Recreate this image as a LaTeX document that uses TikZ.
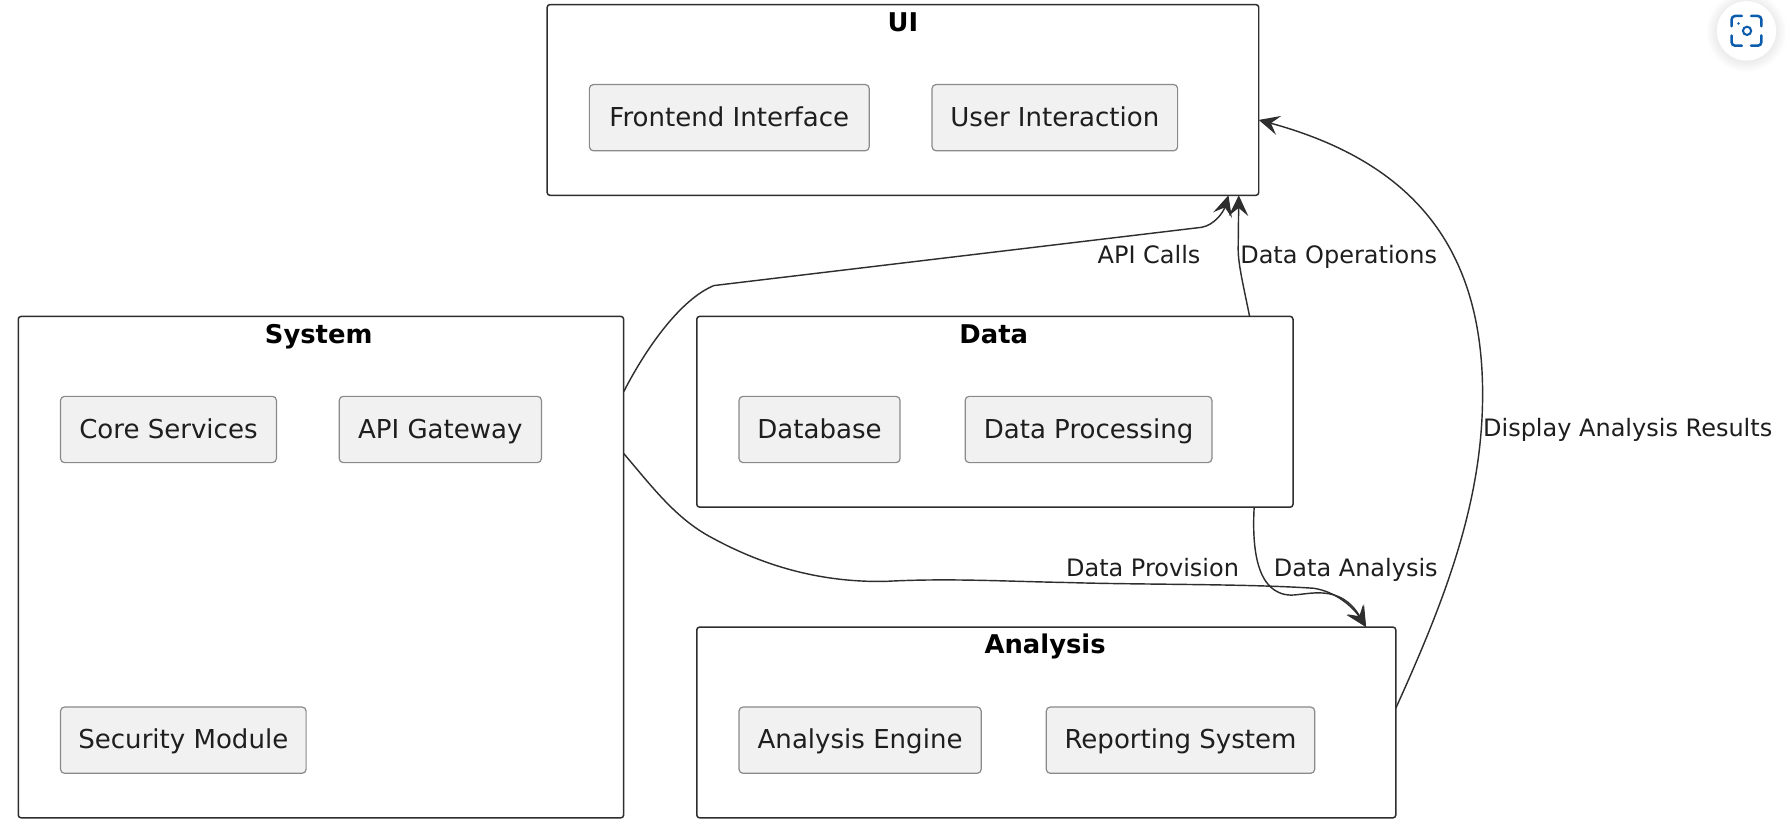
\documentclass[tikz,border=0pt]{standalone}
\usepackage{fontspec}
\setmainfont{DejaVu Sans}
\usetikzlibrary{arrows.meta,calc}
\definecolor{ink}{HTML}{1E1E1E}
\definecolor{frameink}{HTML}{2E2E2E}
\definecolor{compfill}{HTML}{F1F1F1}
\definecolor{compline}{HTML}{8A8A8A}
\definecolor{iconblue}{HTML}{0B5CAD}
\tikzset{
  pack/.style={draw=frameink,line width=1.3pt,fill=white,rounded corners=2.5pt,inner sep=0pt,outer sep=0pt},
  comp/.style={draw=compline,line width=1.05pt,fill=compfill,rounded corners=3.5pt,inner sep=0pt,outer sep=0pt,
    minimum height=58pt,text=ink,text height=19pt,text depth=4pt,font=\fontsize{22.8}{27}\selectfont},
  ptitle/.style={inner sep=0pt,text=black,text height=19pt,text depth=4pt,font=\fontsize{22.6}{27}\selectfont\bfseries},
  elabel/.style={inner sep=0pt,text=ink,text height=17pt,text depth=4pt,font=\fontsize{21}{25}\selectfont},
  conn/.style={draw=frameink,line width=1.25pt,-{Stealth[length=18pt,width=17pt,inset=7pt]}},
}
\begin{document}
\begin{tikzpicture}[x=1pt,y=-1pt]
\useasboundingbox (0,0) rectangle (1568,731);
\fill[white] (0,0) rectangle (1568,731);
% containers
\node[pack,minimum width=623pt,minimum height=167pt] (ui) at (790.5,87.5) {};
\node[pack,minimum width=530pt,minimum height=439pt] (sys) at (281,496.5) {};
\node[pack,minimum width=522pt,minimum height=167pt] (data) at (871,360.5) {};
\node[pack,minimum width=612pt,minimum height=167pt] (ana) at (916,632.5) {};
% titles
\node[ptitle] (uit) at (790.5,20.5) {UI};
\node[ptitle] (syst) at (279,293) {System};
\node[ptitle] (datat) at (870,293) {Data};
\node[ptitle] (anat) at (915,565) {Analysis};
% components
\node[comp,minimum width=245pt] (fi) at (638.5,103) {Frontend Interface};
\node[comp,minimum width=215pt] (ux) at (923.5,103) {User Interaction};
\node[comp,minimum width=189pt] (core) at (147.5,376) {Core Services};
\node[comp,minimum width=177pt] (gw) at (385.5,376) {API Gateway};
\node[comp,minimum width=215pt] (sec) at (160.5,648) {Security Module};
\node[comp,minimum width=141pt] (db) at (717.5,376) {Database};
\node[comp,minimum width=216pt] (dp) at (953,376) {Data Processing};
\node[comp,minimum width=212pt] (ae) at (753,648) {Analysis Engine};
\node[comp,minimum width=235pt] (rs) at (1033.5,648) {Reporting System};
% connectors
\draw[conn] ($(sys.north east)+(0,66)$) .. controls (566,304) and (596,262) .. (625,250)
  -- (1052,199) .. controls (1063,197) and (1071,186) .. ($(ui.south east)+(-26.5,0)$);
\draw[conn] ($(data.north east)+(-38,0)$) .. controls (1089,252) and (1084,232) .. (1084,218)
  -- ($(ui.south east)+(-17.5,0)$);
\draw[conn] ($(sys.north east)+(0,120)$) .. controls (570,425) and (590,452) .. (620,469)
  .. controls (665,494) and (715,510) .. (775,509)
  .. controls (830,506) and (880,509) .. (935,510)
  .. controls (1000,512) and (1090,511) .. (1150,515)
  .. controls (1170,518) and (1185,532) .. ($(ana.north east)+(-26,0)$);
\draw[conn] ($(data.south east)+(-34,0)$) .. controls (1096,480) and (1100,520) .. (1130,521)
  .. controls (1145,521) and (1173,510) .. ($(ana.north east)+(-26,0)$);
\draw[conn] ($(ana.north east)+(0,71)$) .. controls (1265,525) and (1298,440) .. (1298,345)
  .. controls (1298,210) and (1230,140) .. ($(ui.north east)+(0,101)$);
% edge labels
\node[elabel] (l1) at (1006,224.5) {API Calls};
\node[elabel] (l2) at (1172,224.5) {Data Operations};
\node[elabel] (l3) at (1009,498.5) {Data Provision};
\node[elabel] (l4) at (1187,498.5) {Data Analysis};
\node[elabel] (l5) at (1425,376) {Display Analysis Results};
% overlay icon
\foreach \r in {35,34,33,32,31,30,29,28,27}{
  \fill[black,opacity=0.006] (1529,28) circle (\r pt);
}
\fill[white] (1529,27) circle (26pt);
\begin{scope}[iconblue,line width=2.2pt,line cap=round,rounded corners=3pt]
\draw (1516,23) -- (1516,14) -- (1525,14);
\draw (1533,14) -- (1542,14) -- (1542,23);
\draw (1542,31) -- (1542,40) -- (1533,40);
\draw (1525,40) -- (1516,40) -- (1516,31);
\end{scope}
\draw[iconblue,line width=1.8pt] (1529.5,27) circle (3.6pt);
\fill[iconblue] (1522,20.5) circle (1.2pt);
\end{tikzpicture}
\end{document}
